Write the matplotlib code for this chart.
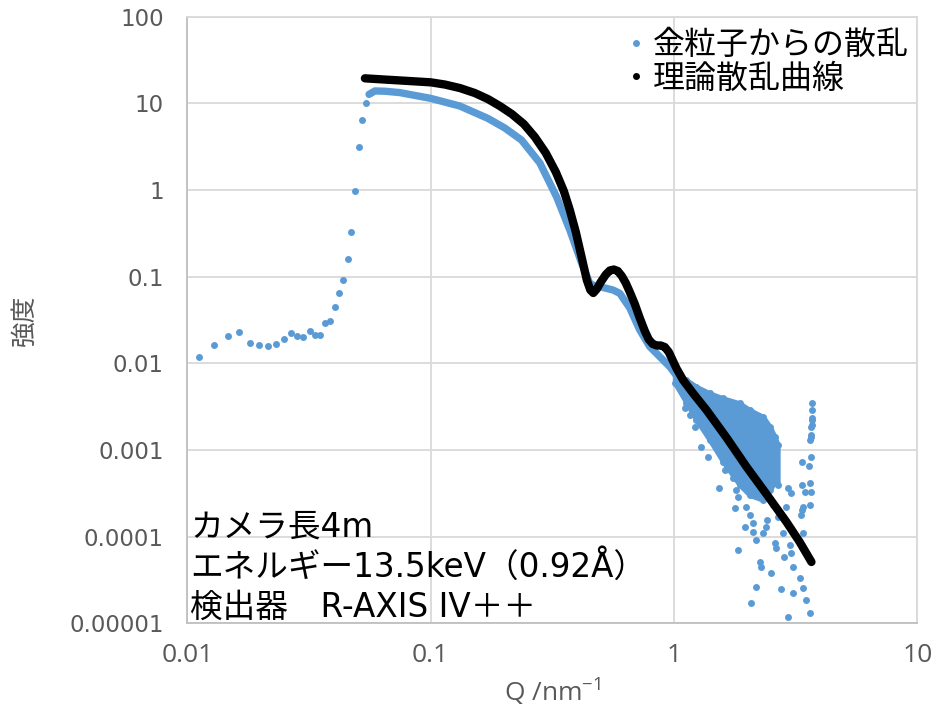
import matplotlib
matplotlib.use('Agg')
import matplotlib.pyplot as plt
from matplotlib.lines import Line2D
from matplotlib.ticker import FixedLocator, FixedFormatter, NullLocator

plt.rcParams['font.family'] = ['Open Sans', 'DejaVu Sans']
plt.rcParams['mathtext.fontset'] = 'custom'
plt.rcParams['mathtext.rm'] = 'Open Sans'
plt.rcParams['mathtext.it'] = 'Open Sans'
cjk = ['Noto Sans CJK JP', 'DejaVu Sans']
mixed = ['DejaVu Sans', 'Noto Sans CJK JP']

# 金粒子からの散乱 : 低Q側 (ビームストップ付近)
q_low = [0.0112, 0.01287, 0.01464, 0.01639, 0.01808, 0.01980, 0.02149, 0.02325, 0.02494,
         0.02672, 0.02836, 0.03001, 0.03188, 0.03342, 0.03524, 0.03684, 0.03873, 0.04037,
         0.04217, 0.04379, 0.04564, 0.04723, 0.04905, 0.05080, 0.05241, 0.05427]
I_low = [0.0118, 0.0161, 0.0208, 0.0232, 0.0173, 0.0161, 0.0160, 0.0166, 0.0189,
         0.0226, 0.0205, 0.0199, 0.0238, 0.0213, 0.0214, 0.0293, 0.0305, 0.0444,
         0.0656, 0.0921, 0.160, 0.325, 0.986, 3.10, 6.48, 10.1]

# 金粒子からの散乱 : 連続した帯の部分
q_band = [0.05583, 0.05900, 0.0649, 0.0747, 0.1002, 0.1318, 0.1717, 0.2017, 0.2362,
          0.2809, 0.3289, 0.3730, 0.4166, 0.4506, 0.4725, 0.4953, 0.5617, 0.5984,
          0.6578, 0.7230, 0.7947, 0.8736, 0.9601, 1.055]
I_band = [12.7, 13.9, 13.8, 13.3, 11.4, 9.31, 6.71, 5.19, 3.77,
          2.05, 0.836, 0.345, 0.144, 0.0838, 0.078, 0.0766, 0.0701, 0.0642,
          0.0435, 0.0242, 0.01555, 0.01192, 0.00914, 0.00642]

# 高Q側の点が密集している領域 (上下の包絡)
q_cloud = [1.007, 1.124, 1.236, 1.402, 1.590, 1.861, 2.046, 2.320, 2.472, 2.592, 2.666]
I_cloud_hi = [0.00794, 0.00642, 0.00537, 0.00451, 0.00395, 0.00346, 0.00289, 0.00242,
              0.00186, 0.00142, 0.00114]
I_cloud_lo = [0.00593, 0.00351, 0.00222, 0.00130, 0.000733, 0.000394, 0.000302, 0.000265,
              0.000345, 0.000427, 0.000394]

# 高Q側のばらついた点
q_out = [1.107, 1.216, 1.296, 1.379, 1.530, 1.616, 1.805, 1.831, 1.776, 1.831,
         1.983, 2.046, 2.110, 1.951, 2.110, 2.180, 2.396, 2.320, 2.592, 2.634,
         2.249, 2.286, 2.512, 2.180, 2.079, 2.803, 2.821, 3.034, 3.081, 3.282,
         2.761, 3.081, 3.387, 3.475, 2.938, 3.633, 2.986, 2.894, 2.938, 3.034,
         3.387, 3.355, 3.336, 3.387, 3.368, 3.442, 3.609, 3.633, 3.668, 3.368,
         3.585, 3.668, 3.633, 3.668, 3.668, 3.702, 3.688, 3.688, 3.688, 3.668,
         3.688, 2.551, 2.666, 2.403, 1.861, 1.951, 1.742, 1.536, 1.160]
I_out = [0.00303, 0.00186, 0.00109, 0.000837, 0.000361, 0.000587, 0.000345, 0.000289, 0.000212, 7.02e-5,
         0.000222, 0.000178, 0.000143, 0.000130, 0.000114, 9.15e-5, 0.000130, 0.000109, 8.38e-5, 7.34e-5,
         5.14e-5, 4.50e-5, 3.78e-5, 2.65e-5, 1.70e-5, 0.000109, 5.87e-5, 6.43e-5, 4.50e-5, 3.31e-5,
         2.47e-5, 2.22e-5, 2.54e-5, 1.86e-5, 1.19e-5, 1.30e-5, 8.01e-5, 0.000222, 0.000361, 0.000316,
         0.000109, 0.000203, 0.000178, 0.000222, 0.000394, 0.000330, 0.000413, 0.000232, 0.000330, 0.000732,
         0.000653, 0.000837, 0.00130, 0.00142, 0.00186, 0.00222, 0.00351, 0.00232, 0.00194, 0.00149,
         0.00289, 0.000232, 0.000169, 0.000156, 0.000501, 0.000413, 0.000480, 0.00130, 0.00253]

# 理論散乱曲線
q_theory = [0.05368, 0.06672, 0.08215, 0.1002, 0.1144, 0.1318, 0.1518, 0.1718, 0.1924, 0.2156,
            0.2414, 0.2679, 0.2972, 0.3268, 0.3524, 0.3730, 0.3948, 0.4178, 0.4380, 0.4528,
            0.4658, 0.4814, 0.5000, 0.5244, 0.5445, 0.5654, 0.5873, 0.6098, 0.6333, 0.6578,
            0.6897, 0.7230, 0.7581, 0.7873, 0.8176, 0.8492, 0.8819, 0.9158, 0.9511, 0.9879,
            1.026, 1.089, 1.197, 1.359, 1.642, 1.983, 2.396, 2.894, 3.282, 3.668]
I_theory = [19.44, 18.72, 18.08, 17.47, 16.48, 15.02, 13.15, 11.21, 9.31, 7.52,
            5.77, 4.09, 2.67, 1.61, 0.973, 0.587, 0.327, 0.164, 0.0915, 0.0701,
            0.0648, 0.0720, 0.0867, 0.1058, 0.1177, 0.1209, 0.1161, 0.1017, 0.0845, 0.0665,
            0.0483, 0.0333, 0.0236, 0.01883, 0.01670, 0.01605, 0.01605, 0.01542, 0.01350, 0.01077,
            0.00860, 0.00642, 0.00451, 0.00289, 0.00139, 0.000641, 0.000310, 0.000148, 8.67e-5, 5.10e-5]

x_ticks = [0.01, 0.1, 1, 10]
x_labels = ['0.01', '0.1', '1', '10']
y_ticks = [1e-5, 1e-4, 1e-3, 1e-2, 1e-1, 1, 10, 100]
y_labels = ['0.00001', '0.0001', '0.001', '0.01', '0.1', '1', '10', '100']

legend_labels = ['金粒子からの散乱', '理論散乱曲線']
note_lines = ['カメラ長4m', 'エネルギー13.5keV（0.92Å）', '検出器　R-AXIS IV＋＋']

blue = '#5B9BD5'
grey_txt = '#595959'

fig = plt.figure(figsize=(9.34, 7.07), dpi=100)
ax = fig.add_axes([0.2005, 0.1184, 0.7818, 0.858])
ax.set_xscale('log')
ax.set_yscale('log')
ax.set_xlim(0.01, 10)
ax.set_ylim(1e-5, 100)

ax.plot(q_band, I_band, '-', color=blue, lw=5.3, solid_capstyle='round',
        solid_joinstyle='round', zorder=3)
ax.fill_between(q_cloud, I_cloud_lo, I_cloud_hi, color=blue, lw=3.5, zorder=3)
ax.plot(q_cloud, I_cloud_hi, 'o', color=blue, ms=5, mew=0, zorder=3)
ax.plot(q_cloud, I_cloud_lo, 'o', color=blue, ms=5, mew=0, zorder=3)
ax.plot(q_low, I_low, 'o', color=blue, ms=5, mew=0, zorder=3)
ax.plot(q_out, I_out, 'o', color=blue, ms=5, mew=0, zorder=3)
ax.plot(q_theory, I_theory, '-', color='black', lw=6, solid_capstyle='round',
        solid_joinstyle='round', zorder=4)

ax.xaxis.set_major_locator(FixedLocator(x_ticks))
ax.xaxis.set_major_formatter(FixedFormatter(x_labels))
ax.yaxis.set_major_locator(FixedLocator(y_ticks))
ax.yaxis.set_major_formatter(FixedFormatter(y_labels))
ax.xaxis.set_minor_locator(NullLocator())
ax.yaxis.set_minor_locator(NullLocator())
ax.tick_params(length=0, labelcolor=grey_txt)
ax.tick_params(axis='y', pad=17, labelsize=16.5)
ax.tick_params(axis='x', pad=14, labelsize=19)
for lab in ax.get_yticklabels():
    lab.set_family('DejaVu Sans')
ax.grid(True, color='#d9d9d9', lw=1.3)
ax.set_axisbelow(True)
for side in ['top', 'right']:
    ax.spines[side].set_color('#d9d9d9')
    ax.spines[side].set_linewidth(1.3)
for side in ['left', 'bottom']:
    ax.spines[side].set_color('#bfbfbf')
    ax.spines[side].set_linewidth(1.3)

fig.text(552 / 934, 1 - 692 / 707, 'Q /nm$^{-1}$', fontsize=19, color=grey_txt,
         ha='center', va='center')
fig.text(25 / 934, 1 - 320 / 707, '強度', fontsize=18.5, color=grey_txt, family=cjk,
         rotation=90, ha='center', va='center')

handles = [Line2D([], [], ls='', marker='o', ms=5, mew=0, color=blue),
           Line2D([], [], ls='', marker='o', ms=5, mew=0, color='black')]
leg = fig.legend(handles, legend_labels, loc='upper left',
                 bbox_to_anchor=(626 / 934, 1 - 29 / 707), frameon=False,
                 prop={'family': cjk, 'size': 23}, handlelength=0.6,
                 handletextpad=0.25, labelspacing=0.05, borderpad=0, borderaxespad=0)

for i, line in enumerate(note_lines):
    fig.text(190 / 934, 1 - (527 + 40 * i) / 707, line, fontsize=23.5,
             family=mixed, va='center', ha='left', color='black')

fig.savefig('out.png', dpi=100)
